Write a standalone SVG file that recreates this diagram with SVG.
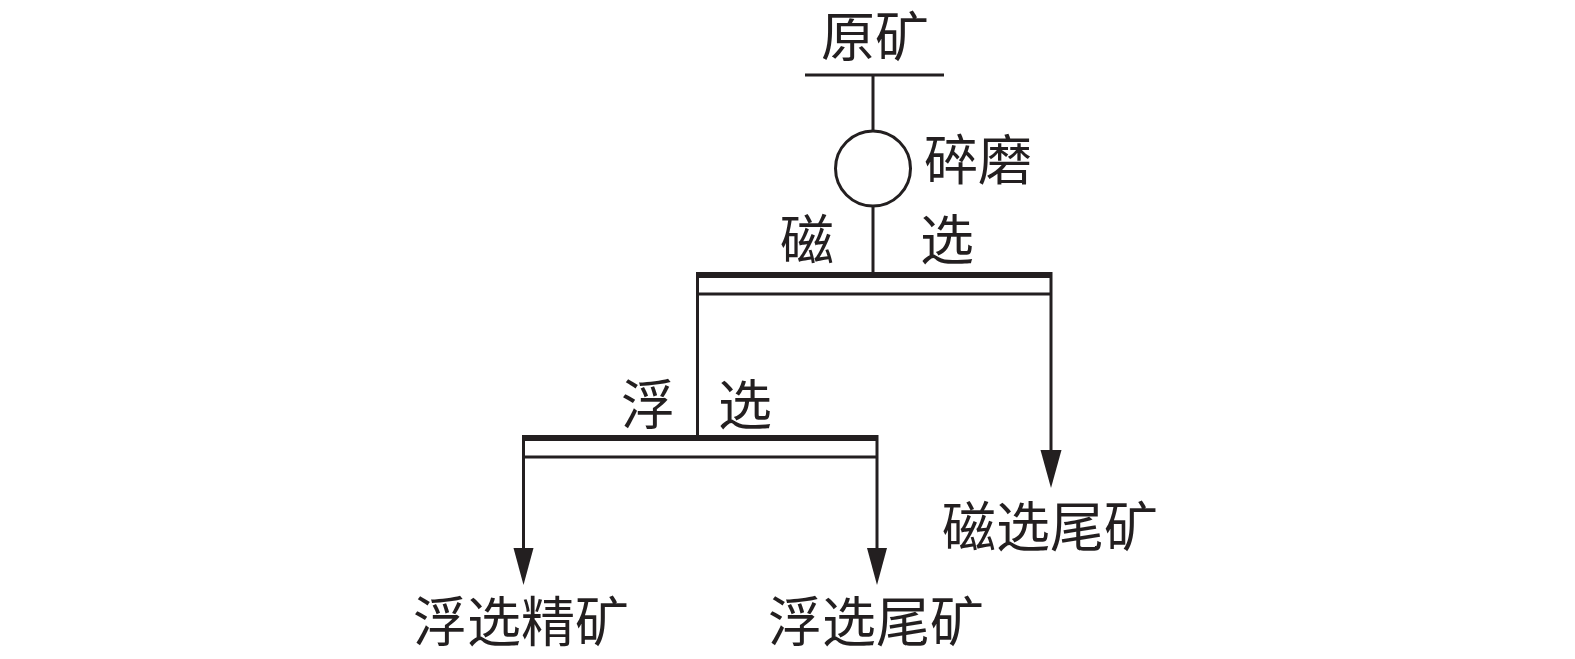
<svg xmlns="http://www.w3.org/2000/svg" width="1575" height="659" viewBox="0 0 1575 659">
<style>
.ln{stroke:#231f20;stroke-width:3;fill:none}
.bar{stroke:#231f20;stroke-width:6;fill:none}
.ah{fill:#231f20}
text{font-family:"Noto Sans CJK SC","Noto Sans CJK JP",sans-serif;font-size:54px;fill:#231f20}
</style>
<rect width="1575" height="659" fill="#ffffff"/>
<g id="feed">
<line class="ln" x1="805" y1="75" x2="944" y2="75"/>
<text x="821" y="57">原矿</text>
</g>
<g id="grinding">
<circle class="ln" cx="873" cy="168.5" r="37.5"/>
<text x="924" y="180">碎磨</text>
</g>
<g id="magnetic">
<line class="bar" x1="696" y1="275" x2="1052" y2="275"/>
<line class="ln" x1="696" y1="294" x2="1052" y2="294"/>
<text x="780" y="260">磁</text>
<text x="920" y="260">选</text>
</g>
<g id="flotation">
<line class="bar" x1="522" y1="438" x2="878" y2="438"/>
<line class="ln" x1="522" y1="457" x2="878" y2="457"/>
<text x="621" y="425">浮</text>
<text x="718" y="425">选</text>
</g>
<g id="mag-tail"><text x="942" y="547">磁选尾矿</text></g>
<g id="flot-conc"><text x="413" y="642">浮选精矿</text></g>
<g id="flot-tail"><text x="768" y="642">浮选尾矿</text></g>
<g id="connectors">
<line class="ln" x1="873" y1="75" x2="873" y2="131"/>
<line class="ln" x1="873" y1="206" x2="873" y2="272"/>
<line class="ln" x1="697.5" y1="272" x2="697.5" y2="435"/>
<line class="ln" x1="1051" y1="272" x2="1051" y2="452"/>
<polygon class="ah" points="1040.5,450 1061.5,450 1051,488"/>
<line class="ln" x1="523.5" y1="435" x2="523.5" y2="550"/>
<polygon class="ah" points="513.5,548 533.5,548 523.5,585"/>
<line class="ln" x1="877" y1="435" x2="877" y2="550"/>
<polygon class="ah" points="867,548 887,548 877,585"/>
</g>
</svg>
